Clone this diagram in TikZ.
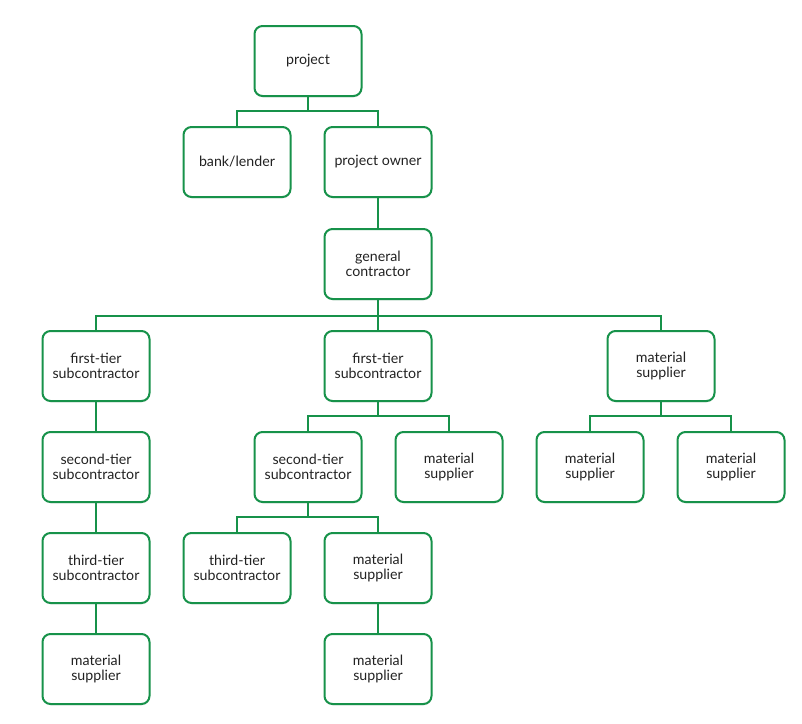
\documentclass[tikz,border=0pt]{standalone}
\usepackage{fontspec}
\setmainfont{Lato}
\usetikzlibrary{shadows}
\definecolor{boxgreen}{HTML}{17924A}
\definecolor{textgray}{HTML}{222222}
\tikzset{
  tierbox/.style={draw=boxgreen, line width=2pt, rounded corners=8pt, fill=white,
    minimum width=107pt, minimum height=70pt, align=center, text=textgray,
    font=\fontsize{14.2}{15.5}\selectfont,
    drop shadow={opacity=0.12, shadow xshift=0.5pt, shadow yshift=-1.5pt}},
  elbow/.style={draw=boxgreen, line width=2pt, to path={-- ++(0,14) -| (\tikztotarget)}},
  wideelbow/.style={elbow, to path={-- ++(0,16) -| (\tikztotarget)}},
  straight/.style={draw=boxgreen, line width=2pt}
}
\begin{document}
\begin{tikzpicture}[x=1pt,y=-1pt]
      \useasboundingbox (0,0) rectangle (802,723);

      \begin{scope}[every node/.style={tierbox}]
        \node (proj)  at (308,61)  {project};
        \node (bank)  at (237,162) {bank/lender};
        \node (own)   at (378,162) {project owner};
        \node (gc)    at (378,264) {general\\contractor};
        \node (ftA)   at (96,366)  {first-tier\\subcontractor};
        \node (ftB)   at (378,366) {first-tier\\subcontractor};
        \node (msA)   at (661,366) {material\\supplier};
        \node (stA)   at (96,467)  {second-tier\\subcontractor};
        \node (stB)   at (308,467) {second-tier\\subcontractor};
        \node (msB)   at (449,467) {material\\supplier};
        \node (msC)   at (590,467) {material\\supplier};
        \node (msD)   at (731,467) {material\\supplier};
        \node (ttA)   at (96,568)  {third-tier\\subcontractor};
        \node (ttB)   at (237,568) {third-tier\\subcontractor};
        \node (msE)   at (378,568) {material\\supplier};
        \node (msF)   at (96,669)  {material\\supplier};
        \node (msG)   at (378,669) {material\\supplier};
      \end{scope}

      \path (proj.south) edge[elbow] (bank.north);
      \path (proj.south) edge[elbow] (own.north);
      \path (own)  edge[straight] (gc);
      \path (gc.south)  edge[wideelbow] (ftA.north);
      \path (gc.south)  edge[wideelbow] (ftB.north);
      \path (gc.south)  edge[wideelbow] (msA.north);
      \path (ftA) edge[straight] (stA);
      \path (stA) edge[straight] (ttA);
      \path (ttA) edge[straight] (msF);
      \path (ftB.south) edge[elbow] (stB.north);
      \path (ftB.south) edge[elbow] (msB.north);
      \path (msA.south) edge[elbow] (msC.north);
      \path (msA.south) edge[elbow] (msD.north);
      \path (stB.south) edge[elbow] (ttB.north);
      \path (stB.south) edge[elbow] (msE.north);
      \path (msE) edge[straight] (msG);

    \end{tikzpicture}
\end{document}
